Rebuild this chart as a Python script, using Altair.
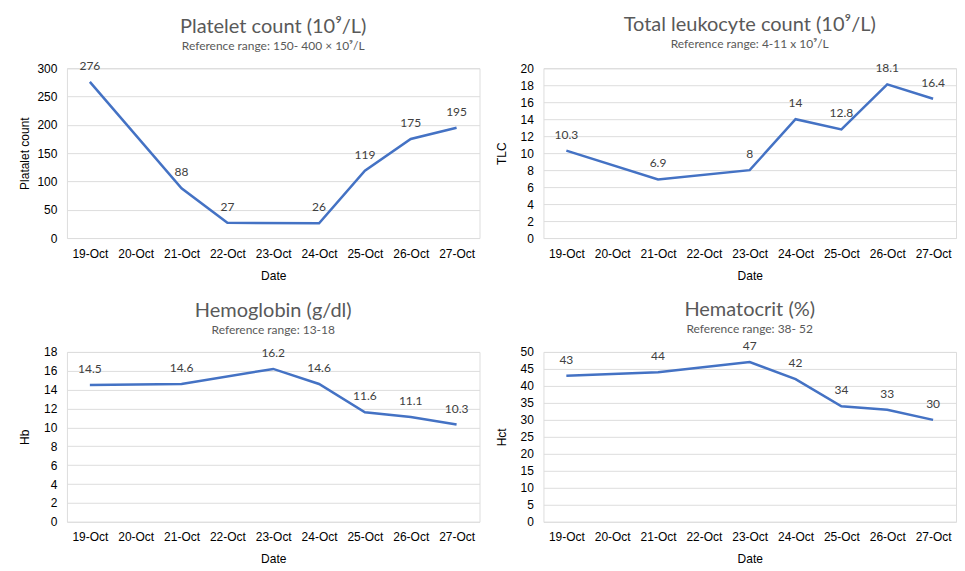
import altair as alt
import pandas as pd

dates = ["19-Oct", "20-Oct", "21-Oct", "22-Oct", "23-Oct", "24-Oct", "25-Oct", "26-Oct", "27-Oct"]

plt_dates = ["19-Oct", "21-Oct", "22-Oct", "24-Oct", "25-Oct", "26-Oct", "27-Oct"]
plt_vals = [276, 88, 27, 26, 119, 175, 195]
plt_ticks = [0, 50, 100, 150, 200, 250, 300]

tlc_dates = ["19-Oct", "21-Oct", "23-Oct", "24-Oct", "25-Oct", "26-Oct", "27-Oct"]
tlc_vals = [10.3, 6.9, 8, 14, 12.8, 18.1, 16.4]
tlc_ticks = [0, 2, 4, 6, 8, 10, 12, 14, 16, 18, 20]

hb_dates = ["19-Oct", "21-Oct", "23-Oct", "24-Oct", "25-Oct", "26-Oct", "27-Oct"]
hb_vals = [14.5, 14.6, 16.2, 14.6, 11.6, 11.1, 10.3]
hb_ticks = [0, 2, 4, 6, 8, 10, 12, 14, 16, 18]

hct_dates = ["19-Oct", "21-Oct", "23-Oct", "24-Oct", "25-Oct", "26-Oct", "27-Oct"]
hct_vals = [43, 44, 47, 42, 34, 33, 30]
hct_ticks = [0, 5, 10, 15, 20, 25, 30, 35, 40, 45, 50]

FONT = "Lato"
GREY = "#595959"
BLUE = "#4472c4"


def panel(title, subtitle, ytitle, d, v, ticks, toffset):
    df = pd.DataFrame({"Date": d, "v": v, "label": [str(x) for x in v]})
    x = alt.X(
        "Date:O",
        sort=dates,
        scale=alt.Scale(type="point", domain=dates, padding=0.5),
        axis=alt.Axis(title="Date", labelAngle=0, ticks=False, domain=False,
                      labelPadding=10, titlePadding=11, grid=False,
                      titleFontWeight="normal", labelFontSize=12, titleFontSize=12),
    )
    y = alt.Y(
        "v:Q",
        scale=alt.Scale(domain=[ticks[0], ticks[-1]], nice=False),
        axis=alt.Axis(title=ytitle, values=ticks, grid=True, ticks=False, domain=False,
                      labelPadding=10, minExtent=30, maxExtent=30, titlePadding=5,
                      titleFontWeight="normal", labelFontSize=12, titleFontSize=12),
    )
    base = alt.Chart(df)
    line = base.mark_line(color=BLUE, strokeWidth=2.5).encode(x=x, y=y)
    text = base.mark_text(dy=-16, fontSize=12, color="#404040", font=FONT).encode(
        x=x, y=y, text="label:N")
    return alt.layer(line, text).properties(
        width=413, height=170,
        title=alt.TitleParams(text=title, subtitle=subtitle, fontSize=20, subtitleFontSize=12,
                              color=GREY, subtitleColor=GREY, anchor="middle", font=FONT,
                              subtitleFont=FONT, fontWeight="normal", offset=toffset,
                              subtitlePadding=4),
    )


p1 = panel("Platelet count (10⁹/L)", "Reference range: 150- 400 × 10⁹/L", "Platalet count",
           plt_dates, plt_vals, plt_ticks, 8)
p2 = panel("Total leukocyte count (10⁹/L)", "Reference range: 4-11 x 10⁹/L", "TLC",
           tlc_dates, tlc_vals, tlc_ticks, 12)
p3 = panel("Hemoglobin (g/dl)", "Reference range: 13-18", "Hb",
           hb_dates, hb_vals, hb_ticks, 10)
p4 = panel("Hematocrit (%)", "Reference range: 38- 52", "Hct",
           hct_dates, hct_vals, hct_ticks, 5)

chart = alt.concat(p1, p2, p3, p4, columns=2, spacing={"row": 114, "column": 64}).properties(
    bounds="flush",
    padding={"left": 10, "top": 6, "right": 0, "bottom": 0},
).configure_view(strokeWidth=0).configure_axis(
    labelColor=GREY, titleColor=GREY, labelFont=FONT, titleFont=FONT, gridColor="#d9d9d9",
).configure(background="white")

chart.save("out.html", embed_options={"renderer": "svg", "actions": False})
